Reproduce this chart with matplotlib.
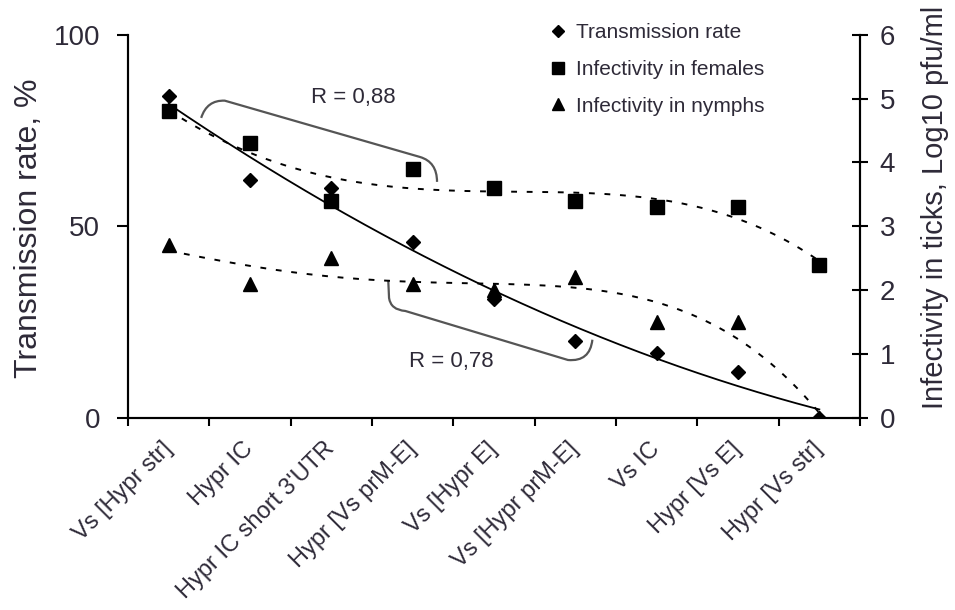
import numpy as np
import matplotlib.pyplot as plt
from matplotlib.path import Path
from matplotlib.patches import PathPatch
from matplotlib.lines import Line2D

plt.rcParams['font.family'] = ['Liberation Sans', 'DejaVu Sans']

# data
strains = ['Vs [Hypr str]', 'Hypr IC', "Hypr IC short 3'UTR", 'Hypr [Vs prM-E]',
           'Vs [Hypr E]', 'Vs [Hypr prM-E]', 'Vs IC', 'Hypr [Vs E]', 'Hypr [Vs str]']
transmission = [84, 62, 60, 46, 31, 20, 17, 12, 0]        # %, left axis
females = [4.8, 4.3, 3.4, 3.9, 3.6, 3.4, 3.3, 3.3, 2.4]    # log10 pfu/ml, right axis
nymphs = [2.7, 2.1, 2.5, 2.1, 2.0, 2.2, 1.5, 1.5, 0.0]     # log10 pfu/ml, right axis

txt = '#2e2a38'
x = np.arange(len(strains))
xs = np.linspace(0, len(strains) - 1, 200)

fig = plt.figure(figsize=(9.55, 6.1), dpi=100)
ax = fig.add_axes([0.134, 0.315, 0.7665, 0.628])
ax2 = ax.twinx()

# trendlines (polynomial, like the spreadsheet ones)
ax.plot(xs, np.polyval(np.polyfit(x, transmission, 2), xs), color='black', lw=1.3)
ax2.plot(xs, np.polyval(np.polyfit(x, females, 4), xs), color='black', lw=1.4,
         ls=(0, (3, 5)))
ax2.plot(xs, np.polyval(np.polyfit(x, nymphs, 4), xs), color='black', lw=1.4,
         ls=(0, (3, 5)))

ax.plot(x, transmission, 'D', color='black', ms=7.5, ls='none')
ax2.plot(x, females, 's', color='black', ms=9.5, ls='none')
ax2.plot(x, nymphs, '^', color='black', ms=9.5, ls='none')

ax.set_xlim(-0.5, len(strains) - 0.5)
ax.set_ylim(0, 100)
ax2.set_ylim(0, 6)
ax.set_yticks([0, 50, 100])
ax2.set_yticks(range(7))

ax.set_xticks(np.arange(-0.5, len(strains)))
ax.set_xticklabels([])
ax.set_xticks(x, minor=True)
ax.set_xticklabels(strains, minor=True, rotation=45, ha='right', va='center',
                   rotation_mode='anchor', fontsize=17, color=txt)
ax.tick_params(axis='x', which='major', direction='out', length=6, width=1.5)
ax.tick_params(axis='x', which='minor', length=0, pad=20)
ax.tick_params(axis='y', direction='out', length=8, width=1.5, pad=12,
               labelsize=20, labelcolor=txt)
ax2.tick_params(axis='y', direction='inout', length=12, width=1.5, pad=8,
                labelsize=20, labelcolor=txt)

for a in (ax, ax2):
    a.spines['top'].set_visible(False)
    for s in a.spines.values():
        s.set_linewidth(1.5)

fig.text(0.030, 0.625, 'Transmission rate, %', rotation=90, ha='center',
         va='center', fontsize=23, color=txt)
fig.text(0.979, 0.66, 'Infectivity in ticks, Log10 pfu/ml', rotation=90,
         ha='center', va='center', fontsize=21, color=txt)

# correlation brackets
top = Path([(0.40, 78.3), (0.47, 83.0), (0.69, 82.8), (3.09, 68.1),
            (3.30, 66.8), (3.30, 61.6)],
           [Path.MOVETO, Path.CURVE3, Path.CURVE3, Path.LINETO,
            Path.CURVE3, Path.CURVE3])
bot = Path([(2.70, 36.0), (2.71, 31.3), (2.73, 28.2), (2.91, 27.9),
            (4.91, 15.1), (5.18, 14.6), (5.21, 20.4)],
           [Path.MOVETO, Path.LINETO, Path.CURVE3, Path.CURVE3,
            Path.LINETO, Path.CURVE3, Path.CURVE3])
for p in (top, bot):
    ax.add_patch(PathPatch(p, fill=False, edgecolor='#555555', lw=1.6))
ax.text(2.27, 83.6, 'R = 0,88', ha='center', va='center', fontsize=16, color=txt)
ax.text(3.47, 14.6, 'R = 0,78', ha='center', va='center', fontsize=16, color=txt)

handles = [Line2D([], [], marker='D', color='black', ms=6, ls='none'),
           Line2D([], [], marker='s', color='black', ms=8, ls='none'),
           Line2D([], [], marker='^', color='black', ms=8, ls='none')]
fig.legend(handles, ['Transmission rate', 'Infectivity in females',
                     'Infectivity in nymphs'],
           loc='upper left', bbox_to_anchor=(0.565, 0.979), frameon=False,
           fontsize=15, handlelength=0.8, handletextpad=0.45, labelspacing=0.85,
           borderpad=0, labelcolor=txt)

fig.savefig('out.png', dpi=100)
